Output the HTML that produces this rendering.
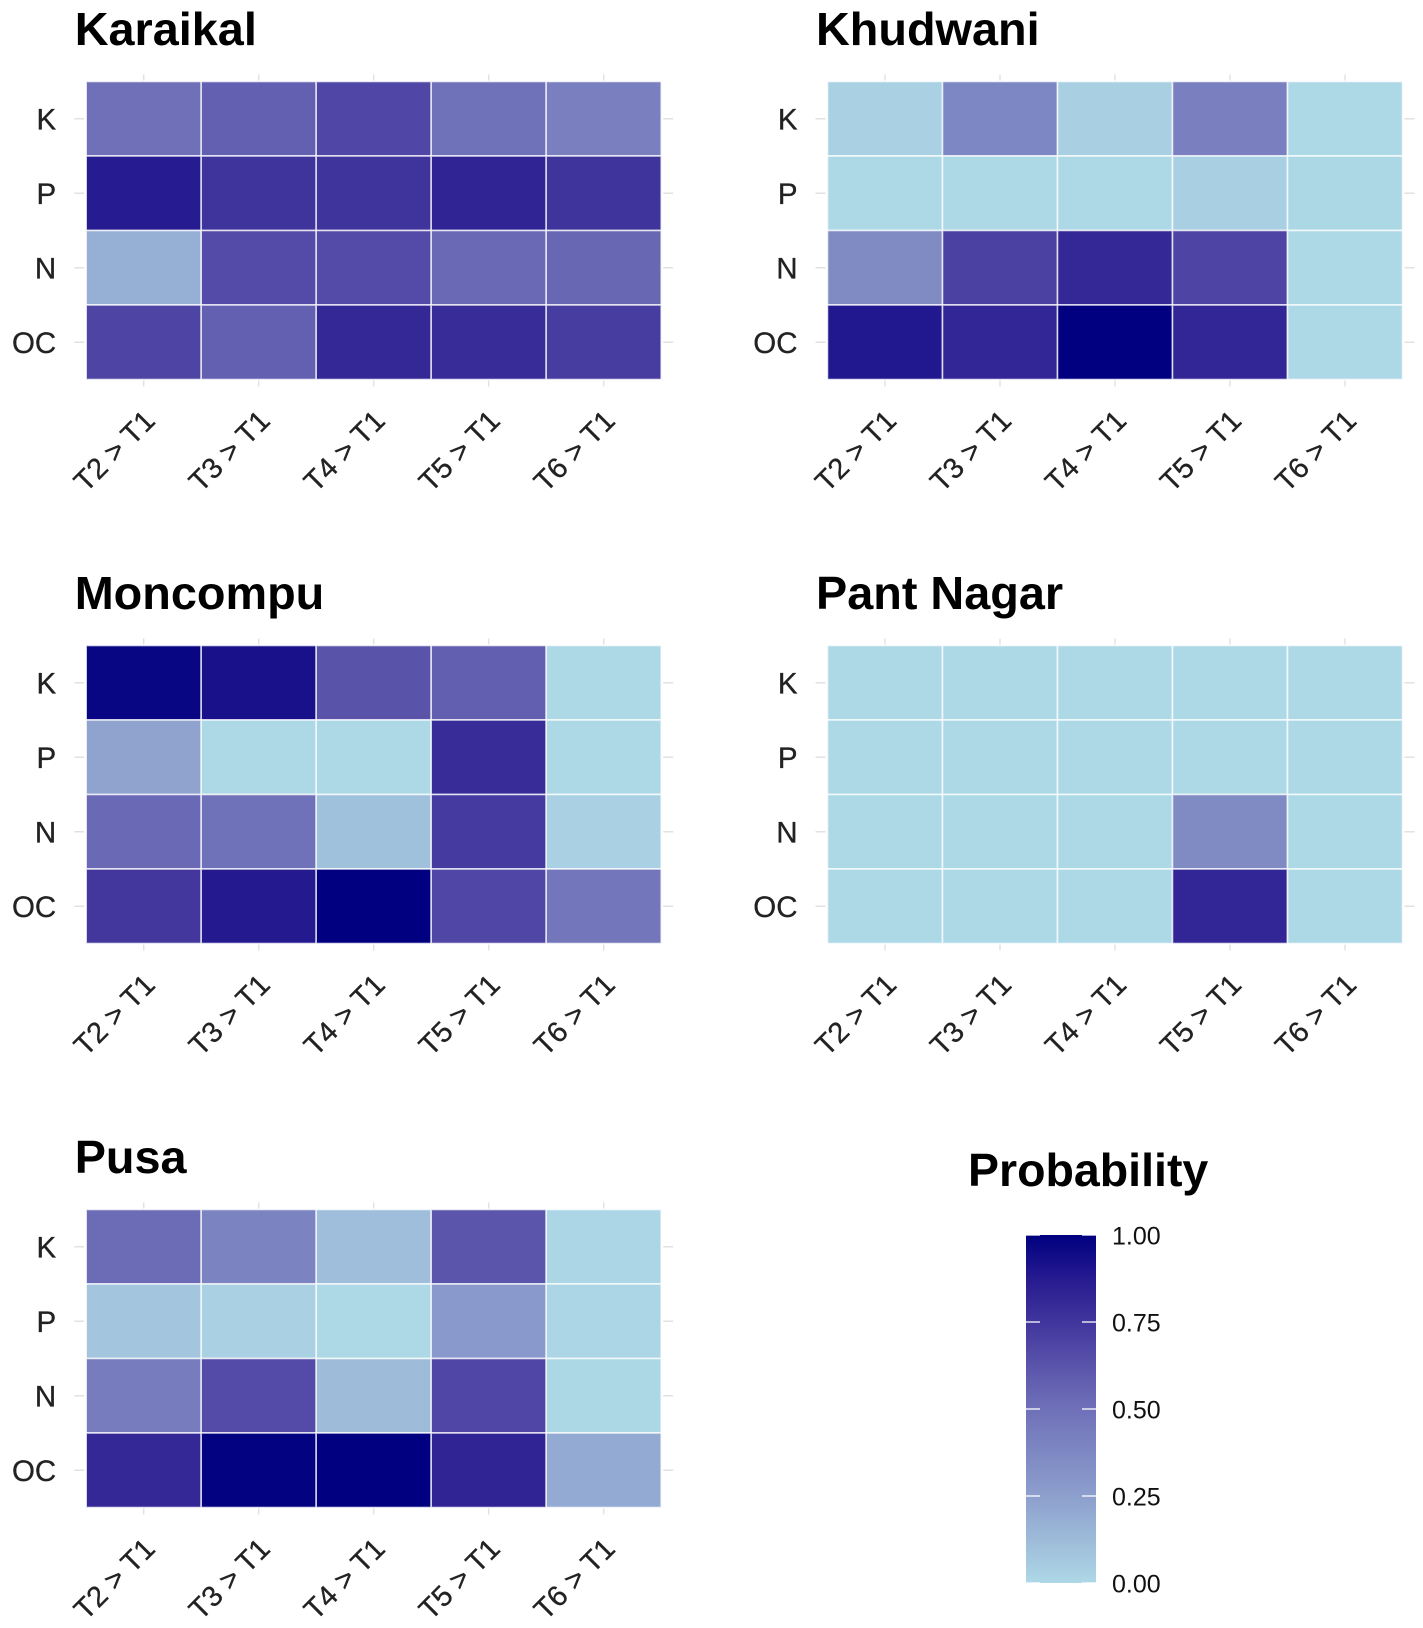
<!DOCTYPE html>
<html lang="en">
<head>
<meta charset="utf-8">
<title>Probability heatmaps</title>
<style>
html,body{margin:0;padding:0;background:#fff;}
svg{display:block;font-family:"Liberation Sans",sans-serif;}
</style>
</head>
<body>
<svg id="chart" xmlns="http://www.w3.org/2000/svg" width="1423" height="1628" viewBox="0 0 1423 1628">
<defs><linearGradient id="legend-gradient" x1="0" y1="1" x2="0" y2="0"></linearGradient></defs>
<rect width="1423" height="1628" fill="#fff"></rect>
</svg>
<script>
const xCategories = ["T2 > T1", "T3 > T1", "T4 > T1", "T5 > T1", "T6 > T1"];
const yCategories = ["K", "P", "N", "OC"];
const panelTitles = ["Karaikal", "Khudwani", "Moncompu", "Pant Nagar", "Pusa"];
const karaikalValues = [
  [0.50, 0.57, 0.68, 0.49, 0.42],
  [0.87, 0.76, 0.76, 0.83, 0.76],
  [0.18, 0.66, 0.66, 0.53, 0.54],
  [0.69, 0.57, 0.81, 0.79, 0.72]
];
const khudwaniValues = [
  [0.03, 0.38, 0.04, 0.42, 0.00],
  [0.00, 0.00, 0.00, 0.035, 0.005],
  [0.36, 0.70, 0.81, 0.69, 0.00],
  [0.89, 0.82, 1.00, 0.82, 0.00]
];
const moncompuValues = [
  [0.97, 0.92, 0.63, 0.58, 0.00],
  [0.23, 0.00, 0.00, 0.79, 0.00],
  [0.53, 0.49, 0.10, 0.73, 0.03],
  [0.74, 0.88, 1.00, 0.68, 0.47]
];
const pantNagarValues = [
  [0.00, 0.00, 0.00, 0.00, 0.00],
  [0.00, 0.00, 0.00, 0.00, 0.00],
  [0.00, 0.00, 0.00, 0.36, 0.00],
  [0.00, 0.00, 0.00, 0.82, 0.00]
];
const pusaValues = [
  [0.52, 0.40, 0.11, 0.62, 0.01],
  [0.08, 0.03, 0.00, 0.28, 0.01],
  [0.44, 0.66, 0.12, 0.68, 0.005],
  [0.81, 0.99, 1.00, 0.83, 0.20]
];
const panelValues = [karaikalValues, khudwaniValues, moncompuValues, pantNagarValues, pusaValues];
const legendTicks = [0, 0.25, 0.5, 0.75, 1];
const legendTickLabels = ["0.00", "0.25", "0.50", "0.75", "1.00"];
const legendTitle = "Probability";

const NS = "http://www.w3.org/2000/svg";
const svg = document.getElementById("chart");

function make(tag, attrs, parent) {
  const el = document.createElementNS(NS, tag);
  for (const k in attrs) el.setAttribute(k, attrs[k]);
  (parent || svg).appendChild(el);
  return el;
}
const ramp = [[173,216,230],[157,187,217],[141,159,205],[126,136,195],[111,112,184],[90,84,171],[65,53,157],[38,26,144],[0,0,128]];
function colorScale(v) {
  const t = Math.max(0, Math.min(1, v)) * (ramp.length - 1);
  const i = Math.min(Math.floor(t), ramp.length - 2);
  const f = t - i;
  const c = ramp[i].map((a, k) => Math.round(a + (ramp[i + 1][k] - a) * f));
  return "rgb(" + c.join(",") + ")";
}

const plotW = 575, plotH = 298;
function panelX(index) { return 86.2 + (index % 2) * 741.3; }
function panelY(index) { return 81.5 + Math.floor(index / 2) * 564; }
function xBand(i) { return plotW / xCategories.length * i; }
function yBand(j) { return plotH / yCategories.length * j; }
function yLegend(v) { return 1583 - v * 348; }

panelTitles.forEach((title, p) => {
  const px = panelX(p), py = panelY(p);
  const g = make("g", { transform: "translate(" + px + "," + py + ")" });
  
  

  const t = make("text", { x: -11.5, y: -36.5, "font-size": 46.8, "font-weight": "bold", fill: "#000" }, g);
  
  
  t.textContent = title;

  const bw = xBand(1), bh = yBand(1);

  xCategories.forEach((cat, i) => {
    const cx = xBand(i) + bw / 2;
    const tickTop = make("line", { x1: cx, x2: cx, y1: -7, y2: -1, stroke: "#e2e2e2", "stroke-width": 1.5 }, g);
    
    
    const tickBottom = make("line", { x1: cx, x2: cx, y1: plotH + 1, y2: plotH + 7, stroke: "#e2e2e2", "stroke-width": 1.5 }, g);
    
    
    const lbl = make("text", { "text-anchor": "end", "font-size": 29, fill: "#222", stroke: "#222", "stroke-width": 0.3, transform: "translate(" + (cx + 13) + "," + (plotH + 43) + ") rotate(-45)" }, g);
    
    
    lbl.textContent = cat;
  });

  yCategories.forEach((cat, j) => {
    const cy = yBand(j) + bh / 2;
    const tickLeft = make("line", { x1: -12, x2: -2, y1: cy, y2: cy, stroke: "#e2e2e2", "stroke-width": 1.5 }, g);
    
    
    const tickRight = make("line", { x1: plotW + 2, x2: plotW + 12, y1: cy, y2: cy, stroke: "#e2e2e2", "stroke-width": 1.5 }, g);
    
    
    const lbl = make("text", { x: -30, y: cy + 10.5, "text-anchor": "end", "font-size": 29.5, fill: "#222", stroke: "#222", "stroke-width": 0.3 }, g);
    
    
    lbl.textContent = cat;
  });

  panelValues[p].forEach((row, j) => {
    row.forEach((v, i) => {
      const cell = make("rect", {
        x: xBand(i), y: yBand(j), width: bw, height: bh,
        fill: colorScale(v), stroke: "#fff", "stroke-opacity": 0.75, "stroke-width": 1.6
      }, g);
      
      
    });
  });
});

const gradient = document.getElementById("legend-gradient");
for (let s = 0; s <= 24; s++) {
  const stop = make("stop", { offset: s / 24, "stop-color": colorScale(s / 24) }, gradient);
  
  
}
const legend = make("g", {});


const legendHead = make("text", { x: 968, y: 1186, "font-size": 46.5, "font-weight": "bold", fill: "#000" }, legend);


legendHead.textContent = legendTitle;
const bar = make("rect", { x: 1026, y: yLegend(1), width: 70, height: yLegend(0) - yLegend(1), fill: "url(#legend-gradient)" }, legend);


legendTicks.forEach((v, i) => {
  const y = yLegend(v);
  const a = make("line", { x1: 1026, x2: 1040, y1: y, y2: y, stroke: "#fff", "stroke-opacity": 0.85, "stroke-width": 1.5 }, legend);
  
  
  const b = make("line", { x1: 1082, x2: 1096, y1: y, y2: y, stroke: "#fff", "stroke-opacity": 0.85, "stroke-width": 1.5 }, legend);
  
  
  const lbl = make("text", { x: 1112, y: y + 9.5, "font-size": 25, fill: "#111" }, legend);
  
  
  lbl.textContent = legendTickLabels[i];
});
</script>
</body>
</html>
